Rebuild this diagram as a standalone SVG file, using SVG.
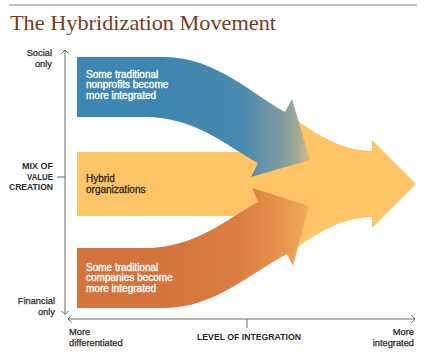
<svg xmlns="http://www.w3.org/2000/svg" width="427" height="358" viewBox="0 0 427 358">
  <defs>
    <linearGradient id="gBlue" gradientUnits="userSpaceOnUse" x1="160" y1="0" x2="312" y2="0">
      <stop offset="0" stop-color="#3d86b1"/>
      <stop offset="0.55" stop-color="#4a8aad"/>
      <stop offset="0.8" stop-color="#7f9ca3"/>
      <stop offset="0.92" stop-color="#a9ac92"/>
      <stop offset="1" stop-color="#d9be7e" stop-opacity="0.8"/>
    </linearGradient>
    <linearGradient id="gOrange" gradientUnits="userSpaceOnUse" x1="160" y1="0" x2="312" y2="0">
      <stop offset="0" stop-color="#d5733d"/>
      <stop offset="0.55" stop-color="#dc7f44"/>
      <stop offset="0.82" stop-color="#e7964f"/>
      <stop offset="1" stop-color="#f2ad5c" stop-opacity="0.85"/>
    </linearGradient>
    <marker id="chev" viewBox="0 0 8 8" refX="7" refY="4" markerWidth="8" markerHeight="8" markerUnits="userSpaceOnUse" orient="auto-start-reverse">
      <path d="M3.5,0.5 L7,4 L3.5,7.5" fill="none" stroke="#666" stroke-width="1"/>
    </marker>
  </defs>
  <style>
    .lbl { font-family: "Liberation Sans", Arial, sans-serif; font-size: 9.3px; fill: #2a2a2a; stroke: #2a2a2a; stroke-width: 0.25px; }
    .wht { font-family: "Liberation Sans", Arial, sans-serif; font-size: 10px; fill: #ffffff; stroke: #ffffff; stroke-width: 0.35px; }
    .dk { font-family: "Liberation Sans", Arial, sans-serif; font-size: 10px; fill: #2a2a2a; stroke: #2a2a2a; stroke-width: 0.3px; }
    .cap { font-family: "Liberation Sans", Arial, sans-serif; font-size: 9.3px; font-weight: bold; fill: #2a2a2a; }
    .ax { stroke: #6a6a6a; stroke-width: 1; fill: none; }
  </style>

  <rect width="427" height="358" fill="#ffffff"/>

  <g id="title">
    <line x1="9" y1="5" x2="417" y2="5" stroke="#cdbdb5" stroke-width="2"/>
    <text x="10" y="29.5" font-family="'Liberation Serif', 'Times New Roman', serif" font-size="22" fill="#763c1e" textLength="266" lengthAdjust="spacingAndGlyphs">The Hybridization Movement</text>
  </g>

  <g id="node-hybrid">
    <path d="M77,152 L248,152 L292,112 L298,121 C320,137 345,151 372,151 L372,140 L416,184 L372,228 L372,217 C345,217 320,231 298,247 L292,256 L248,216 L77,216 Z" fill="#fec466"/>
    <text class="dk" x="86" y="182.3">Hybrid</text>
    <text class="dk" x="86" y="192.8">organizations</text>
  </g>

  <g id="node-nonprofits">
    <path d="M77,57 L165,57 C215,57 255,96 285,112 L292,99 L310,160 L251,177 L258,163 C225,145 195,117 145,117 L77,117 Z" fill="url(#gBlue)"/>
    <text class="wht" x="86" y="78.3">Some traditional</text>
    <text class="wht" x="86" y="88.3">nonprofits become</text>
    <text class="wht" x="86" y="98.5">more integrated</text>
  </g>

  <g id="node-companies">
    <path d="M77,308 L165,308 C215,308 255,270 287,254 L293,266 L309,206 L252,188 L258,202 C225,220 195,248 145,248 L77,248 Z" fill="url(#gOrange)"/>
    <text class="wht" x="86" y="270.7">Some traditional</text>
    <text class="wht" x="86" y="281.2">companies become</text>
    <text class="wht" x="86" y="291.8">more integrated</text>
  </g>

  <g id="connectors">
    <line class="ax" x1="65" y1="50" x2="65" y2="314.5" marker-start="url(#chev)" marker-end="url(#chev)"/>
    <line class="ax" x1="68" y1="319" x2="415" y2="319" marker-start="url(#chev)" marker-end="url(#chev)"/>
    <line class="ax" x1="247" y1="319" x2="247" y2="328"/>
    <line class="ax" x1="57" y1="177" x2="65" y2="177"/>
  </g>

  <g id="axis-labels">
    <text class="lbl" x="52" y="56" text-anchor="end">Social</text>
    <text class="lbl" x="52" y="66.5" text-anchor="end">only</text>
    <text class="lbl" x="55" y="304.3" text-anchor="end">Financial</text>
    <text class="lbl" x="55" y="314.7" text-anchor="end">only</text>
    <text class="cap" x="22" y="169" textLength="31" lengthAdjust="spacingAndGlyphs">MIX OF</text>
    <text class="cap" x="27" y="179.5" textLength="26" lengthAdjust="spacingAndGlyphs">VALUE</text>
    <text class="cap" x="9" y="190" textLength="44" lengthAdjust="spacingAndGlyphs">CREATION</text>
    <text class="lbl" x="69" y="335.3">More</text>
    <text class="lbl" x="69" y="345.5">differentiated</text>
    <text class="cap" x="197" y="339.8" textLength="104" lengthAdjust="spacingAndGlyphs">LEVEL OF INTEGRATION</text>
    <text class="lbl" x="414" y="335.3" text-anchor="end">More</text>
    <text class="lbl" x="414" y="346" text-anchor="end">integrated</text>
  </g>
</svg>
